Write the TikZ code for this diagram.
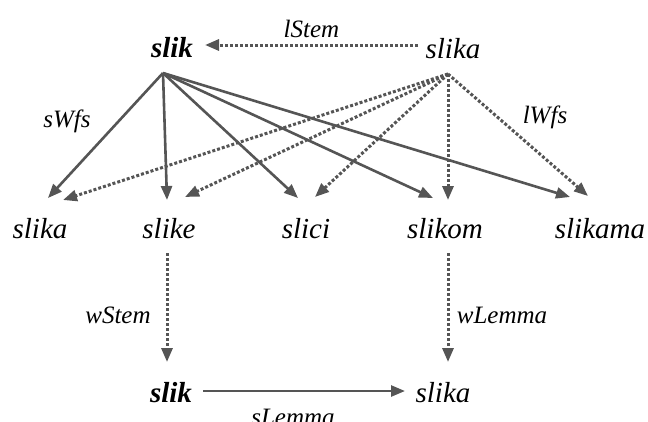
\documentclass[tikz,border=0pt]{standalone}
\usepackage{fontspec}
\setmainfont{LiberationSerif}[Extension=.ttf, UprightFont=*-Regular, BoldFont=*-Bold, ItalicFont=*-Italic, BoldItalicFont=*-BoldItalic]
\usepackage{tikz}
\usetikzlibrary{arrows.meta}

\definecolor{linegray}{HTML}{555555}

\tikzset{
  word/.style={font=\rmfamily\fontsize{29}{29}\selectfont\itshape, inner sep=0pt, anchor=base},
  stemword/.style={word, font=\rmfamily\fontsize{29}{29}\selectfont\bfseries\itshape},
  rel/.style={font=\rmfamily\fontsize{25}{25}\selectfont\itshape, inner sep=0pt},
  link/.style={draw=linegray, line width=2.6pt, -{Triangle[length=14pt,width=11pt]}},
  dotlink/.style={link, line width=3pt, dash pattern=on 3pt off 2pt}
}

\begin{document}
\begin{tikzpicture}[x=1pt,y=-1pt]
\useasboundingbox (0,0) rectangle (648,421);

% lemma and stem
\node[stemword] (stemTop) at (172,57) {slik};
\node[word] (lemmaTop) at (453,58) {slika};
\draw[dotlink] ([shift={(-35,-13)}]lemmaTop.base) -- ([shift={(33,-12)}]stemTop.base)
  node[rel,midway,above=6pt] (lStem) {lStem};

% word forms
\node[word] (formA) at (40,238) {slika};
\node[word] (formE) at (169,238) {slike};
\node[word] (formI) at (306,238) {slici};
\node[word] (formOm) at (445,238) {slikom};
\node[word] (formAma) at (600,238) {slikama};

% sWfs: stem to word forms
\draw[link] ([shift={(-9,16)}]stemTop.base) -- ([shift={(8,-40)}]formA.base);
\draw[link] ([shift={(-9,16)}]stemTop.base) -- ([shift={(-2,-38)}]formE.base);
\draw[link] ([shift={(-9,16)}]stemTop.base) -- ([shift={(-8,-40)}]formI.base);
\draw[link] ([shift={(-9,16)}]stemTop.base) -- ([shift={(-12,-40)}]formOm.base);
\draw[link] ([shift={(-9,16)}]stemTop.base) -- ([shift={(-30,-41)}]formAma.base);
\node[rel] (sWfs) at (67,121) {sWfs};

% lWfs: lemma to word forms
\draw[dotlink] ([shift={(-5,16)}]lemmaTop.base) -- ([shift={(23,-38)}]formA.base);
\draw[dotlink] ([shift={(-5,16)}]lemmaTop.base) -- ([shift={(16,-41)}]formE.base);
\draw[dotlink] ([shift={(-5,16)}]lemmaTop.base) -- ([shift={(9,-41)}]formI.base);
\draw[dotlink] ([shift={(-5,16)}]lemmaTop.base) -- ([shift={(3,-38)}]formOm.base);
\draw[dotlink] ([shift={(-5,16)}]lemmaTop.base) -- ([shift={(-12,-42)}]formAma.base);
\node[rel] (lWfs) at (545,117) {lWfs};

% word to stem and lemma
\node[stemword] (stemBot) at (171,402) {slik};
\node[word] (lemmaBot) at (443,402) {slika};
\draw[dotlink] ([shift={(-2,15)}]formE.base) -- ([shift={(-4,-40)}]stemBot.base);
\node[rel] (wStem) at (118,315) {wStem};
\draw[dotlink] ([shift={(3,15)}]formOm.base) -- ([shift={(5,-40)}]lemmaBot.base);
\node[rel] (wLemma) at (502,315) {wLemma};
\draw[link] ([shift={(32,-11)}]stemBot.base) -- ([shift={(-38,-11)}]lemmaBot.base);
\node[rel,anchor=base] (sLemma) at (293,425) {sLemma};
\end{tikzpicture}
\end{document}
